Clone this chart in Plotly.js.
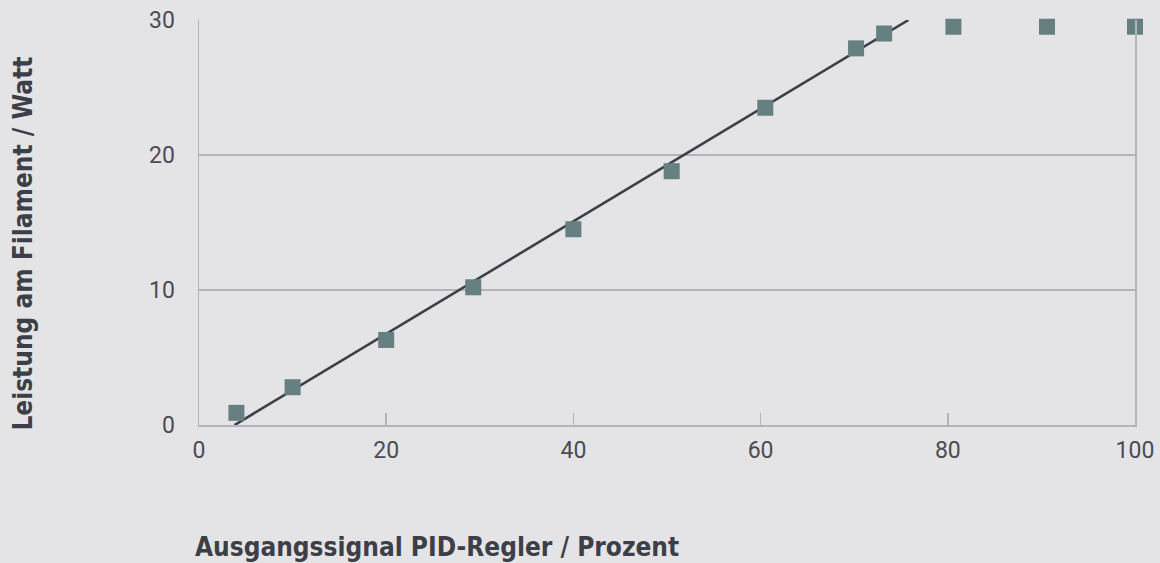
<!DOCTYPE html>
<html>
<head>
<meta charset="utf-8">
<script src="https://cdn.plot.ly/plotly-3.0.1.min.js"></script>
<style>html,body{margin:0;padding:0;background:#e4e4e6;}#chart{width:1160px;height:563px;}</style>
</head>
<body>
<div id="chart"></div>
<script>
// Measured data points (PID output % vs filament power W)
const signalPercent = [4, 10, 20, 29.3, 40, 50.5, 60.5, 70.2, 73.2, 80.6, 90.6, 100];
const powerWatt     = [0.9, 2.8, 6.3, 10.2, 14.5, 18.8, 23.5, 27.9, 29.0, 29.5, 29.5, 29.5];
// Linear fit line endpoints
const fitX = [3.8, 75.8];
const fitY = [0, 30];
const xTicks = [0, 20, 40, 60, 80, 100];
const yTicks = [0, 10, 20, 30];

const gridCol = '#b3b4b9';
const textCol = '#4a4c54';
const titleFont = {family: 'DejaVu Sans Condensed, DejaVu Sans', size: 26, color: '#3c3f47', weight: 700};

const traces = [
  {x: fitX, y: fitY, mode: 'lines', type: 'scatter',
   line: {color: '#3d3f49', width: 2.6}, hoverinfo: 'skip', cliponaxis: true},
  {x: signalPercent, y: powerWatt, mode: 'markers', type: 'scatter',
   marker: {symbol: 'square', size: 16, color: '#667f81'}, cliponaxis: false}
];

const layout = {
  width: 1160, height: 563,
  paper_bgcolor: '#e4e4e6', plot_bgcolor: '#e4e4e6',
  margin: {l: 199, r: 25, t: 20, b: 138},
  showlegend: false,
  font: {family: 'Roboto, sans-serif', size: 23, color: textCol},
  xaxis: {range: [0, 100], tickvals: xTicks, ticktext: xTicks.map(String),
          showgrid: false, zeroline: false, showline: true, linecolor: gridCol, linewidth: 1.5,
          ticks: 'inside', ticklen: 12, tickcolor: gridCol, tickwidth: 1.5,
          ticklabelstandoff: 4, fixedrange: true},
  yaxis: {range: [0, 30], tickvals: yTicks, ticktext: yTicks.map(String),
          showgrid: true, gridcolor: gridCol, gridwidth: 1.5, zeroline: false,
          showline: true, linecolor: gridCol, linewidth: 1.5, mirror: true,
          ticks: '', ticklabelstandoff: 18, fixedrange: true},
  annotations: [
    {text: '<b>Ausgangssignal PID-Regler / Prozent</b>', xref: 'paper', yref: 'paper',
     x: -0.006, y: -0.301, xanchor: 'left', yanchor: 'middle', showarrow: false, font: titleFont},
    {text: '<b>Leistung am Filament / Watt</b>', xref: 'paper', yref: 'paper',
     x: -0.188, y: 0.448, xanchor: 'center', yanchor: 'middle', textangle: -90, showarrow: false, font: titleFont}
  ]
};
Plotly.newPlot('chart', traces, layout, {staticPlot: true});
</script>
</body>
</html>
